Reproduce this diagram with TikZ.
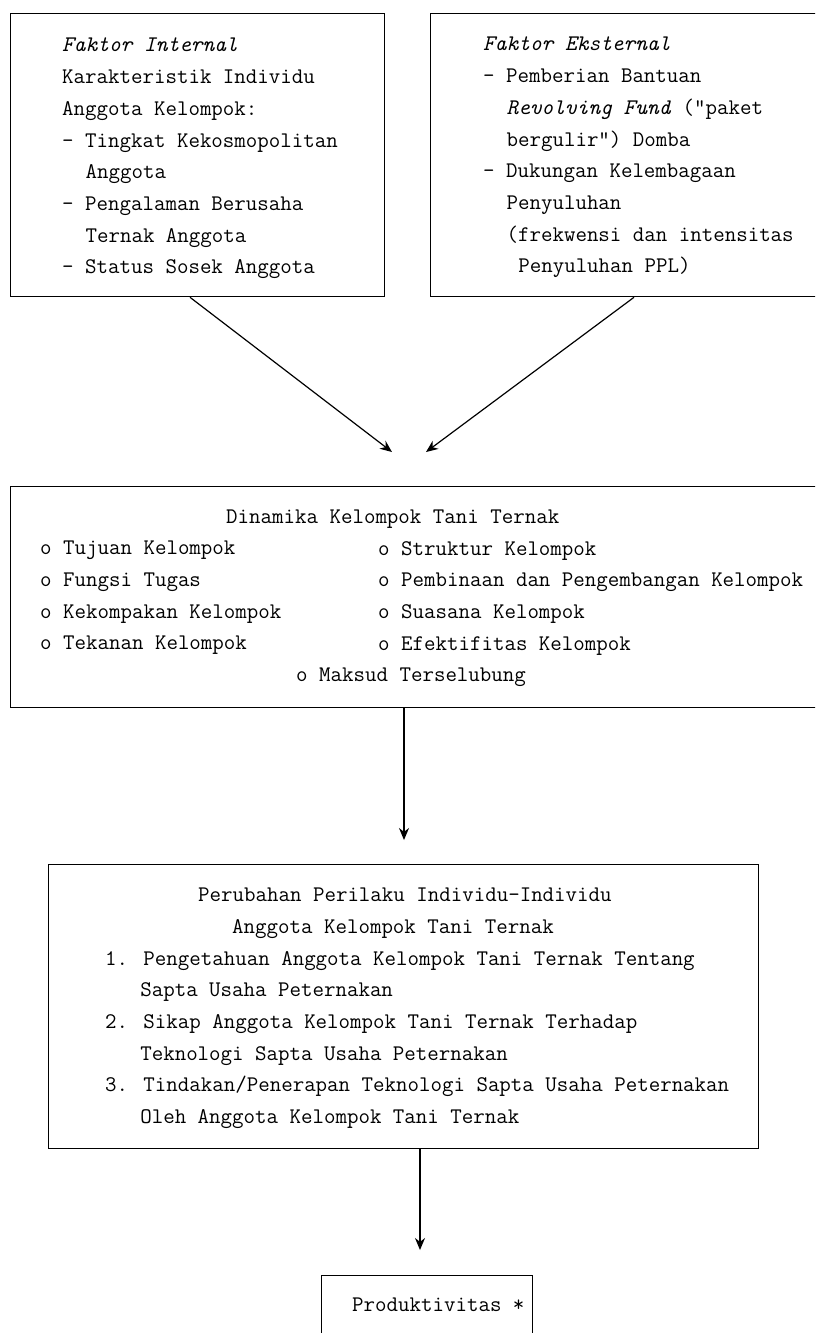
\documentclass[tikz,border=0pt]{standalone}
\usepackage{tikz}
\usetikzlibrary{arrows.meta}

\begin{document}
\begin{tikzpicture}[
    x=1pt, y=-1pt,
    box/.style={draw, line width=1.3pt, anchor=north west, inner sep=0pt},
    txt/.style={font=\ttfamily\fontsize{22.3}{31.7}\selectfont, align=left, inner sep=0pt},
    link/.style={line width=1.2pt, -{Stealth[length=12pt,width=10pt]}},
]
    \useasboundingbox (0,0) rectangle (815,1333);
    \clip (0,0) rectangle (815,1333);

    % boxes
    \node[box, minimum width=374pt, minimum height=283pt] (faktorint) at (10,13) {};
    \node[box, minimum width=400pt, minimum height=283pt] (faktoreks) at (430,13) {};
    \node[box, minimum width=820pt, minimum height=221pt] (dinamika) at (10,486) {};
    \node[box, minimum width=710pt, minimum height=284pt] (perubahan) at (48,864) {};
    \node[box, minimum width=211pt, minimum height=80pt] (produktivitas) at (321,1275) {};

    % text of the upper boxes
    \node[txt, anchor=north west] (intlist) at (62,38) {\textit{Faktor Internal}\\
        Karakteristik Individu\\
        Anggota Kelompok:\\
        - Tingkat Kekosmopolitan\\
        \hspace*{1.05em}Anggota\\
        - Pengalaman Berusaha\\
        \hspace*{1.05em}Ternak Anggota\\
        - Status Sosek Anggota};
    \node[txt, anchor=north west] (ekslist) at (483,37) {\textit{Faktor Eksternal}\\
        - Pemberian Bantuan\\
        \hspace*{1.05em}\textit{Revolving Fund} (\textquotedbl paket\\
        \hspace*{1.05em}bergulir\textquotedbl) Domba\\
        - Dukungan Kelembagaan\\
        \hspace*{1.05em}Penyuluhan\\
        \hspace*{1.05em}(frekwensi dan intensitas\\
        \hspace*{1.575em}Penyuluhan PPL)};

    % dinamika
    \node[txt, anchor=base west] (dintitle) at (226,523.6) {Dinamika Kelompok Tani Ternak};
    \node[txt, anchor=north west] (dinleft) at (40,541) {o Tujuan Kelompok\\
        o Fungsi Tugas\\
        o Kekompakan Kelompok\\
        o Tekanan Kelompok};
    \node[txt, anchor=north west] (dinright) at (378,541) {o Struktur Kelompok\\
        o Pembinaan dan Pengembangan Kelompok\\
        o Suasana Kelompok\\
        o Efektifitas Kelompok};
    \node[txt, anchor=base west] (dinlast) at (296,681.6) {o Maksud Terselubung};

    % perubahan perilaku
    \node[txt, anchor=base west] (pertitle) at (198,901.6) {Perubahan Perilaku Individu-Individu};
    \node[txt, anchor=base west] (pertitleb) at (232,933.6) {Anggota Kelompok Tani Ternak};
    \node[txt, anchor=north west] (perlist) at (105,951) {1. Pengetahuan Anggota Kelompok Tani Ternak Tentang\\
        \hspace*{1.575em}Sapta Usaha Peternakan\\
        2. Sikap Anggota Kelompok Tani Ternak Terhadap\\
        \hspace*{1.575em}Teknologi Sapta Usaha Peternakan\\
        3. Tindakan/Penerapan Teknologi Sapta Usaha Peternakan\\
        \hspace*{1.575em}Oleh Anggota Kelompok Tani Ternak};

    \node[txt, anchor=base west] (prodtext) at (352,1311.6) {Produktivitas *};

    % arrows
    \coordinate (tipint) at (392,452);
    \coordinate (tipeks) at (426,452);
    \draw[link] ([xshift=180pt]faktorint.south west) -- (tipint);
    \draw[link] ([xshift=204pt]faktoreks.south west) -- (tipeks);
    \draw[link] ([xshift=394pt]dinamika.south west) -- ([xshift=356pt,yshift=24pt]perubahan.north west);
    \draw[link] ([xshift=372pt]perubahan.south west) -- ([xshift=99pt,yshift=25pt]produktivitas.north west);
\end{tikzpicture}
\end{document}
